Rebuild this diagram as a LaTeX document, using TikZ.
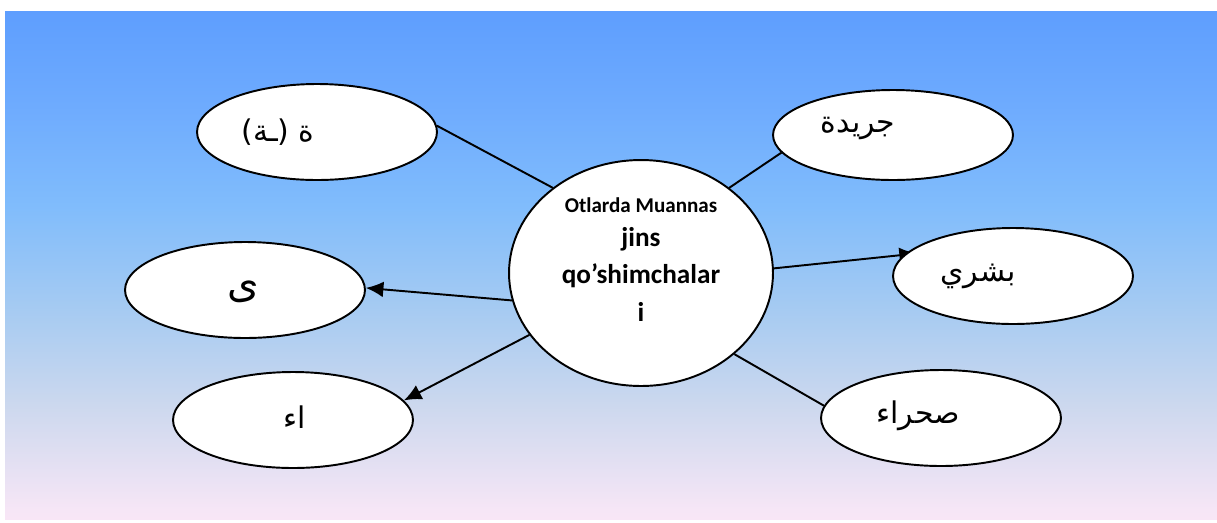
\documentclass[tikz,border=0pt]{standalone}
\usepackage{fontspec}
\newfontfamily\arabicfont[Script=Arabic]{DejaVu Sans}
\newfontfamily\calfont{Carlito}
\TeXXeTstate=1
\usetikzlibrary{shapes.geometric,arrows.meta,backgrounds}
\definecolor{c0}{HTML}{F8E6F6}
\definecolor{c1}{HTML}{F6E6F6}
\definecolor{c2}{HTML}{CCD8EE}
\definecolor{c3}{HTML}{A4CAF2}
\definecolor{c4}{HTML}{80BCFC}
\definecolor{c5}{HTML}{6EABFE}
\definecolor{c6}{HTML}{5E9EFE}
\pgfdeclareverticalshading{bgshade}{100bp}{color(0bp)=(c0); color(25bp)=(c0); color(25.9bp)=(c1); color(36.2bp)=(c2); color(46.1bp)=(c3); color(55.9bp)=(c4); color(65.7bp)=(c5); color(75bp)=(c6); color(100bp)=(c6)}
\tikzset{
  ell/.style={ellipse, draw, fill=white, line width=1.1pt, minimum width=4.8cm, minimum height=1.92cm, inner sep=0pt},
  ar/.style={font=\arabicfont\fontsize{17}{20}\selectfont, inner sep=0pt},
  ctr/.style={font=\calfont\bfseries\fontsize{15.5}{18}\selectfont, inner sep=0pt, anchor=base},
  conn/.style={line width=1.1pt, black},
  arr/.style={-{Latex[length=10pt,width=9pt]}}
}
\begin{document}
\begin{tikzpicture}[x=0.02cm,y=-0.02cm]
\useasboundingbox (0,0) rectangle (1217,522);
% ellipses
\node[ell] (ta) at (317,132) {};
\node[ell] (ya) at (245,290) {};
\node[ell] (alif) at (293,420) {};
\node[ell, minimum height=1.8cm] (jar) at (893,135) {};
\node[ell] (bas) at (1013,276) {};
\node[ell] (sah) at (941,418) {};
\node[ellipse, draw, fill=white, line width=1.1pt, minimum width=5.28cm, minimum height=4.52cm, inner sep=0pt] (c) at (641,273) {};
% texts
\node[ar] (tat) at (278,132) {\beginR ة (ـة)\endR};
\node[ar, font=\arabicfont\fontsize{23}{26}\selectfont] (yat) at (243,292) {\beginR ى\endR};
\node[ar] (alt) at (295,417) {\beginR اء\endR};
\node[ar] (jart) at (858,128) {\beginR جريدة\endR};
\node[ar] (bast) at (978,276) {\beginR بشري\endR};
\node[ar] (saht) at (918,416) {\beginR صحراء\endR};
\node[ctr, font=\calfont\bfseries\fontsize{12}{14}\selectfont] (l1) at (641,212) {Otlarda Muannas};
\node[ctr] (l2) at (641,246) {jins};
\node[ctr] (l3) at (641,283) {qo’shimchalar};
\node[ctr] (l4) at (641,321) {i};
\begin{pgfonlayer}{background}
\shade[shading=bgshade] (5,11) rectangle (1217,519);
\draw[conn] (c.136) -- (ta.3);
\draw[conn,arr] (c.192) -- (ya.1);
\draw[conn,arr] (c.209) -- (alif.10);
\draw[conn] (c.44) -- (jar.189);
\draw[conn,arr,shorten >=-0.26cm] (c.2) -- (bas.169);
\draw[conn] (c.319) -- (sah.174);
\end{pgfonlayer}
\end{tikzpicture}
\end{document}
